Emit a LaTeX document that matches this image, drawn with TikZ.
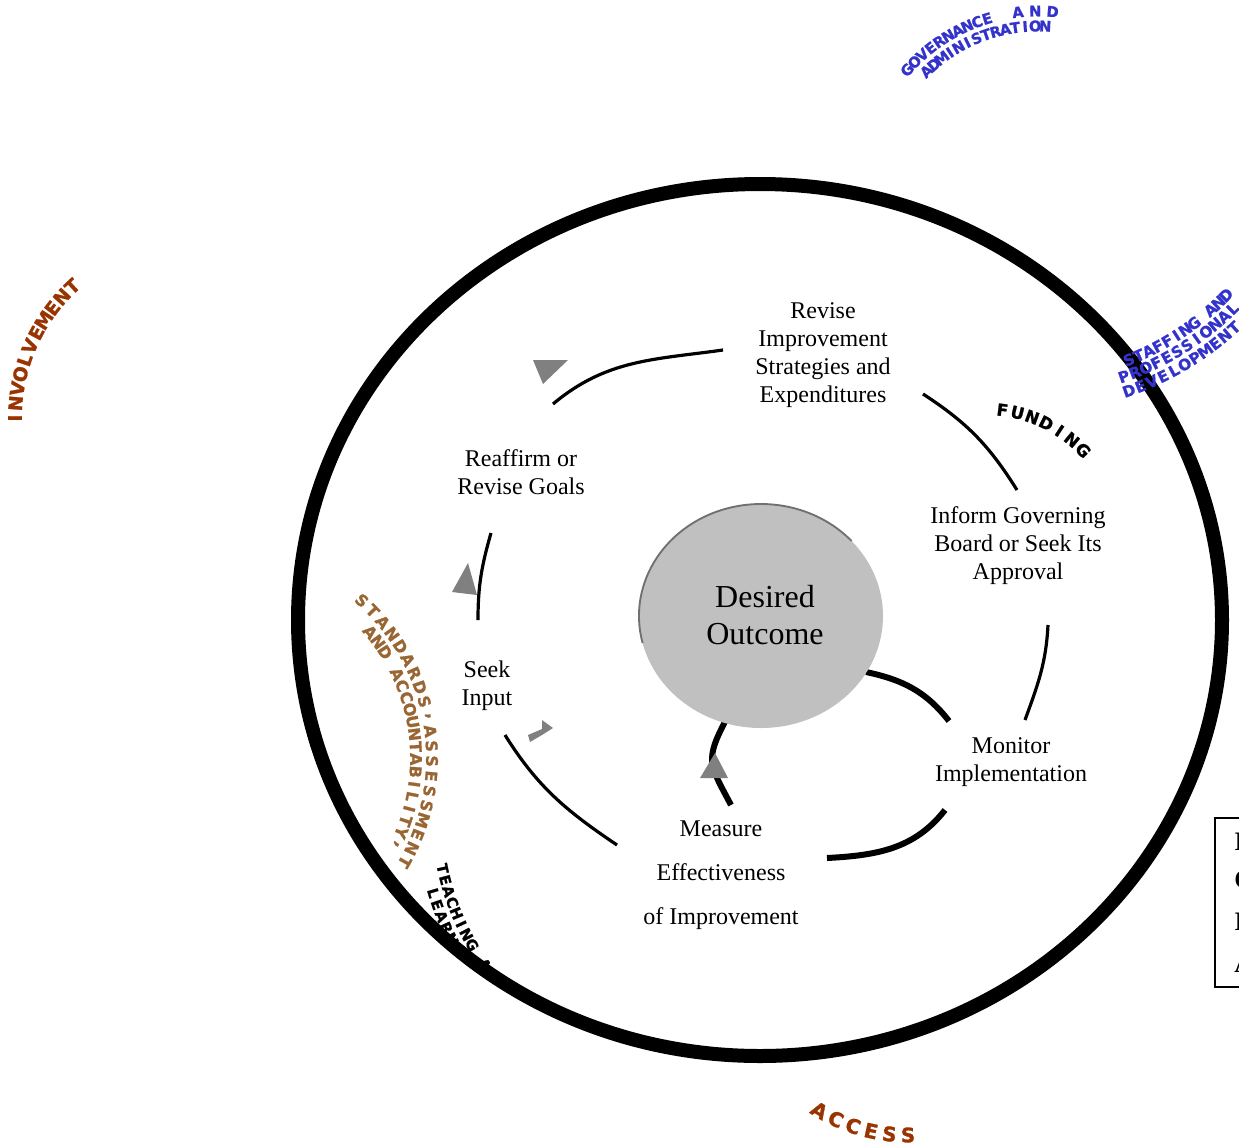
\documentclass[tikz,border=0pt]{standalone}
\usepackage{fontspec}
\setmainfont{Liberation Serif}
\newfontfamily\arcfont[BoldFeatures={FakeBold=1.2}]{DejaVu Sans}
\usetikzlibrary{calc}
\definecolor{govblue}{HTML}{3333CC}
\definecolor{rust}{HTML}{993300}
\definecolor{stdbrown}{HTML}{996633}
\definecolor{arrowgray}{HTML}{808080}
\definecolor{hubgray}{HTML}{C0C0C0}
\definecolor{hubedge}{HTML}{707070}
% #1 name prefix, #2 cx, #3 cy, #4 radius, #5 start angle, #6 step, #7 rotation offset, #8 style, #9 letters
\newcommand{\arctxt}[9]{%
  \foreach \ch [count=\i from 0] in {#9}{%
    \pgfmathsetmacro{\ang}{#5+\i*(#6)}%
    \pgfmathsetmacro{\rot}{#7-\ang}%
    \node[ltr,#8,rotate=\rot] (#1-\i) at ({#2+#4*cos(\ang)},{#3+#4*sin(\ang)}) {\ch};
  }%
}
\begin{document}
\begin{tikzpicture}[x=0.75pt,y=-0.75pt,
  lbl/.style={font=\fontsize{18}{21}\selectfont, align=center, inner sep=0pt},
  hubtext/.style={font=\fontsize{24}{28}\selectfont, align=center, inner sep=0pt},
  ltr/.style={inner sep=0pt},
  thinarc/.style={line width=2.4pt},
  thickarc/.style={line width=4.5pt},
  tri/.style={fill=arrowgray},
  ring/.style={line width=10.5pt}]
\useasboundingbox (0,0) rectangle (1239,1147);
\clip (0,0) rectangle (1239,1147);

% text partly hidden under the ring
\arctxt{teach}{695}{815}{258}{168}{-2.6}{90}{font=\arcfont\bfseries\fontsize{11}{11}\selectfont}{T,E,A,C,H,I,N,G,{},A}
\arctxt{learn}{695}{815}{273}{163.4}{-2.6}{90}{font=\arcfont\bfseries\fontsize{11}{11}\selectfont}{L,E,A,R,N}

% cycle connectors
\coordinate (a1s) at (553,404); \coordinate (a1e) at (723,350);
\coordinate (a2s) at (923,394); \coordinate (a2e) at (1017,490);
\coordinate (a3s) at (1048,625); \coordinate (a3e) at (1025,720);
\coordinate (a4s) at (505,735); \coordinate (a4e) at (617,845);
\coordinate (a5s) at (491,533); \coordinate (a5e) at (478,620);
\draw[thinarc] (a1s) to[out=40,in=-172] (a1e);
\draw[thinarc] (a2s) to[out=-33,in=122] (a2e);
\draw[thinarc] (a3s) to[out=-93,in=70] (a3e);
\draw[thinarc] (a4s) to[out=-58,in=146] (a4e);
\draw[thinarc] (a5s) to[out=-106,in=90] (a5e);

\coordinate (b1s) at (866,672); \coordinate (b1e) at (949,721);
\coordinate (b2s) at (945,810); \coordinate (b2e) at (827,858);
\coordinate (b3s) at (727,718); \coordinate (b3e) at (731,805);
\draw[thickarc] (b1s) to[out=-12,in=128] (b1e);
\draw[thickarc] (b2s) to[out=-128,in=3] (b2e);
\draw[thickarc] (b3s) to[out=-118,in=118,looseness=1.4] (b3e);

% hub
\coordinate (hub) at (761,616);
\fill[hubgray] (hub) ellipse [x radius=122, y radius=112];
\draw[hubedge,line width=1.4pt] ($(hub)+(166:122 and 112)$) arc[start angle=166,end angle=318,x radius=122,y radius=112];
\node[hubtext] (outcome) at (765,615) {Desired\\Outcome};

% arrowheads
\fill[tri] (533,360) -- (568,360) -- (543,384) -- cycle;
\fill[tri] (452,592) -- (477,595) -- (468,563) -- cycle;
\fill[tri] (700,778) -- (728,778) -- (715,753) -- cycle;
\fill[tri] (542,720) -- (553,728) -- (542,735) -- (530,742) -- (528,735) -- (542,729) -- cycle;

% step labels
\node[lbl] (revise) at (823,355) {Revise\\Improvement\\Strategies and\\Expenditures};
\node[lbl] (reaffirm) at (521,472) {Reaffirm or\\Revise Goals};
\node[lbl] (inform) at (1018,546) {Inform Governing\\Board or Seek Its\\Approval};
\node[lbl] (seek) at (487,686) {Seek\\Input};
\node[lbl] (monitor) at (1011,762) {Monitor\\Implementation};
\node[lbl,font=\fontsize{18}{33}\selectfont] (measure) at (721,875) {Measure\\Effectiveness\\of Improvement};

% outer ring
\draw[ring] (760,620) ellipse [x radius=462, y radius=436];

% curved labels
\arctxt{fund}{986}{544}{135}{-83}{6.5}{-90}{font=\arcfont\bfseries\fontsize{12.5}{13}\selectfont}{F,U,N,D,I,N,G}
\arctxt{acc}{908}{963}{172}{121}{-6.2}{90}{text=rust,font=\arcfont\bfseries\fontsize{15}{15}\selectfont}{A,C,C,E,S,S}
\arctxt{inv}{195}{418}{180}{180}{4.7}{-90}{text=rust,font=\arcfont\bfseries\fontsize{14}{14}\selectfont}{I,N,V,O,L,V,E,M,E,N,T}
\arctxt{std}{220}{758}{212}{-48}{4.07}{-90}{text=stdbrown,font=\arcfont\bfseries\fontsize{12}{12}\selectfont}{S,T,A,N,D,A,R,D,S,{,},A,S,S,E,S,S,M,E,N,T}
\arctxt{acct}{220}{758}{196}{-40}{3.67}{-90}{text=stdbrown,font=\arcfont\bfseries\fontsize{12}{12}\selectfont}{A,N,D,{},A,C,C,O,U,N,T,A,B,I,L,I,T,Y,{,}}
\arctxt{gov}{1038}{186}{175}{-138.4}{3.5}{-90}{text=govblue,font=\arcfont\bfseries\fontsize{11}{11}\selectfont}{G,O,V,E,R,N,A,N,C,E}
\arctxt{gand}{1038}{186}{175}{-96.6}{5.7}{-90}{text=govblue,font=\arcfont\bfseries\fontsize{11}{11}\selectfont}{A,N,D}
\arctxt{adm}{1038}{186}{160}{-134.2}{3.6}{-90}{text=govblue,font=\arcfont\bfseries\fontsize{11}{11}\selectfont}{A,D,M,I,N,I,S,T,R,A,T,I,O,N}
\arctxt{stf}{1027}{101}{278}{68.5}{-2.2}{90}{text=govblue,font=\arcfont\bfseries\fontsize{11.5}{12}\selectfont}{S,T,A,F,F,I,N,G,{},A,N,D}
\arctxt{prof}{1027}{101}{292}{70.6}{-2.3}{90}{text=govblue,font=\arcfont\bfseries\fontsize{11.5}{12}\selectfont}{P,R,O,F,E,S,S,I,O,N,A,L}
\arctxt{dev}{1027}{101}{307}{70.6}{-2.3}{90}{text=govblue,font=\arcfont\bfseries\fontsize{11.5}{12}\selectfont}{D,E,V,E,L,O,P,M,E,N,T}

% cut-off key box
\draw[line width=0.9pt] (1215,818) rectangle (1300,987);
\node[anchor=west,inner sep=0pt,font=\fontsize{20}{20}\selectfont\bfseries] (k1) at (1234,842) {I};
\node[anchor=west,inner sep=0pt,font=\fontsize{20}{20}\selectfont\bfseries] (k2) at (1234,880) {C};
\node[anchor=west,inner sep=0pt,font=\fontsize{20}{20}\selectfont\bfseries] (k3) at (1234,922) {I};
\node[anchor=west,inner sep=0pt,font=\fontsize{20}{20}\selectfont\bfseries] (k4) at (1234,964) {A};
\end{tikzpicture}
\end{document}
